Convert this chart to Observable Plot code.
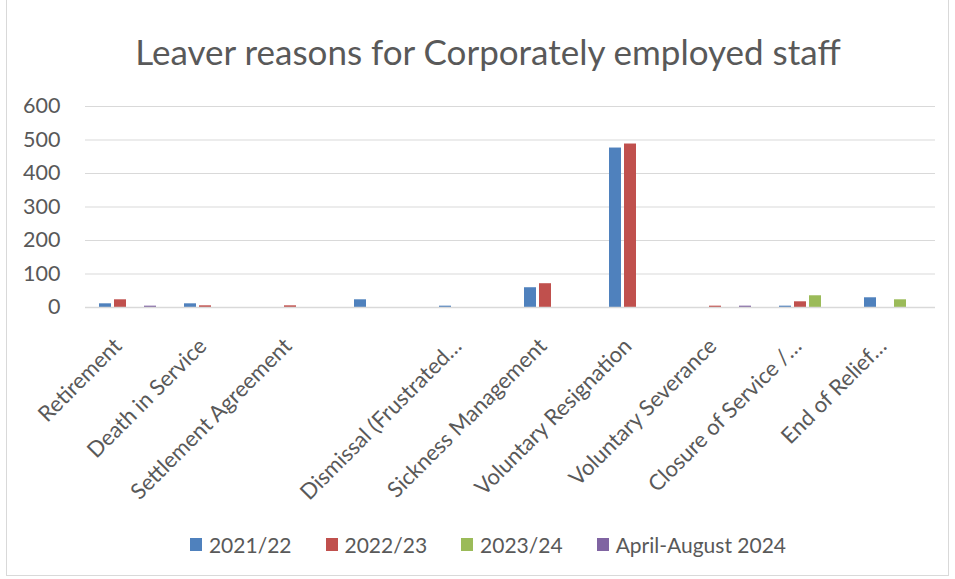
<!DOCTYPE html>
<html>
<head>
<meta charset="utf-8">
<script src="https://cdn.jsdelivr.net/npm/d3@7"></script>
<script src="https://cdn.jsdelivr.net/npm/@observablehq/plot@0.6"></script>
<style>
  html, body { margin: 0; padding: 0; background: #fff; }
  #wrap { position: relative; width: 955px; height: 579px; overflow: hidden; font-family: Lato, "Open Sans", sans-serif; color: #595959; }
  #frame { position: absolute; left: 6px; top: -2px; width: 943px; height: 578px; border: 1px solid #d9d9d9; box-sizing: border-box; }
  #title { position: absolute; left: 21px; width: 934px; top: 31px; line-height: 40px; text-align: center; font-size: 35px; white-space: nowrap; }
  #chart { position: absolute; left: 0; top: 90px; }
  #legend { position: absolute; left: 21px; width: 934px; top: 531px; height: 26px; display: flex; justify-content: center; align-items: center; font-size: 21px; }
  .item { display: flex; align-items: center; margin: 0 17px; }
  .sw { width: 12px; height: 13px; margin-right: 7px; }
</style>
</head>
<body>
<div id="wrap">
  <div id="frame"></div>
  <div id="title">Leaver reasons for Corporately employed staff</div>
  <div id="chart"></div>
  <div id="legend"></div>
</div>
<script>
const categories = ["Retirement", "Death in Service", "Settlement Agreement", " ", "Dismissal (Frustrated…", "Sickness Management", "Voluntary Resignation", "Voluntary Severance", "Closure of Service /…", "End of Relief…"];
const series = ["2021/22", "2022/23", "2023/24", "April-August 2024"];
const colors = ["#4f81bd", "#c0504d", "#9bbb59", "#8064a2"];
const values2021_22 = [11, 11, 0, 23, 4, 59, 476, 0, 4, 29];
const values2022_23 = [23, 5, 5, 0, 0, 71, 488, 4, 17, 0];
const values2023_24 = [0, 0, 0, 0, 0, 0, 0, 0, 35, 23];
const valuesAprAug2024 = [4, 0, 0, 0, 0, 0, 0, 4, 0, 0];
const yTicks = [0, 100, 200, 300, 400, 500, 600];

const allSeries = [values2021_22, values2022_23, values2023_24, valuesAprAug2024];
const data = [];
categories.forEach((c, i) => {
  series.forEach((s, j) => {
    data.push({category: c, series: s, value: allSeries[j][i]});
  });
});

const chart = Plot.plot({
  width: 955,
  height: 430,
  marginLeft: 82,
  marginRight: 18,
  marginTop: 16,
  marginBottom: 213,
  style: {fontFamily: "Lato, 'Open Sans', sans-serif", fontSize: "21px", color: "#595959", background: "transparent"},
  fx: {domain: categories, padding: 0},
  x: {domain: series, axis: null, paddingInner: 0.19, paddingOuter: 0.89},
  y: {domain: [0, 600]},
  color: {domain: series, range: colors},
  marks: [
    Plot.ruleY(yTicks, {stroke: "#d9d9d9", strokeWidth: 1}),
    Plot.barY(data, {fx: "category", x: "series", y: "value", fill: "series"}),
    Plot.ruleY([0], {stroke: "#d9d9d9", strokeWidth: 1.5}),
    Plot.axisY({ticks: yTicks, tickSize: 0, tickPadding: 25, label: null, fontSize: 21.5}),
    Plot.axisFx({anchor: "bottom", tickRotate: -45, tickSize: 0, tickPadding: 30, label: null, fontSize: 22, dx: -10, dy: 5})
  ]
});
document.getElementById("chart").appendChild(chart);

const legend = document.getElementById("legend");
series.forEach((s, i) => {
  const item = document.createElement("div");
  item.className = "item";
  const sw = document.createElement("div");
  sw.className = "sw";
  sw.style.background = colors[i];
  const t = document.createElement("span");
  t.textContent = s;
  item.appendChild(sw);
  item.appendChild(t);
  legend.appendChild(item);
});
</script>
</body>
</html>
